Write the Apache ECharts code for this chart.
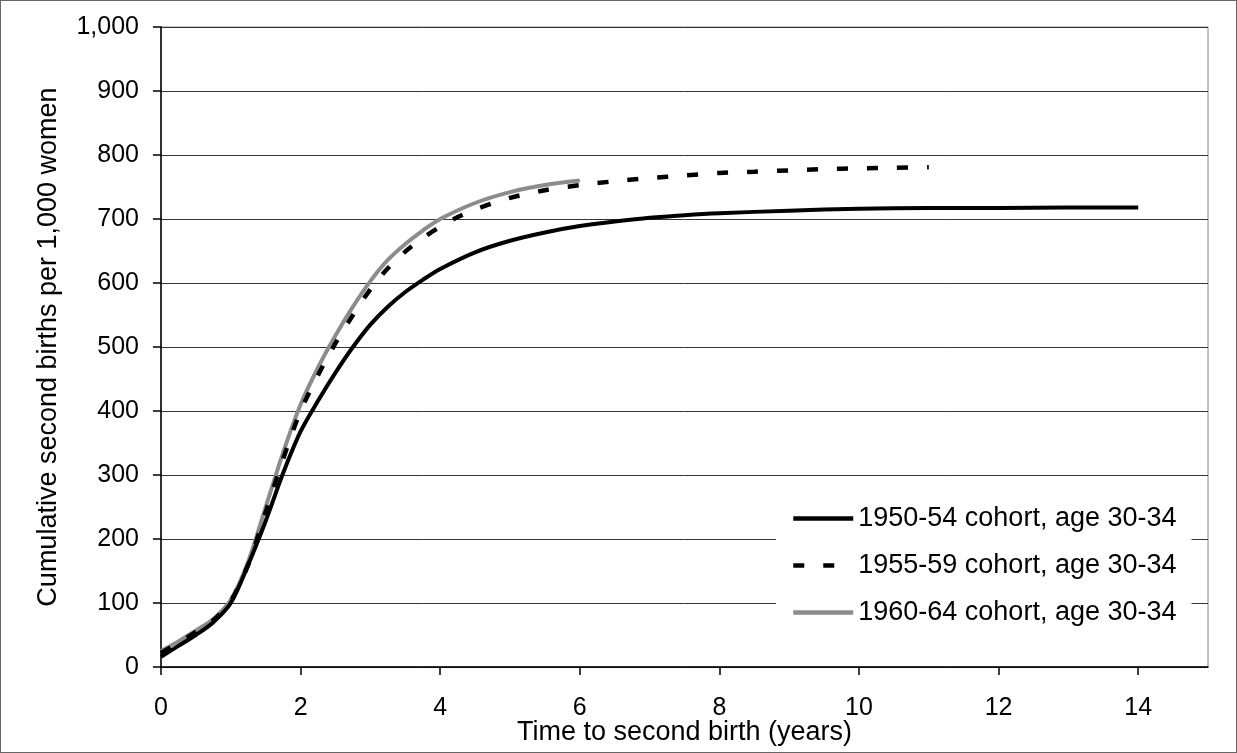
<!DOCTYPE html>
<html>
<head>
<meta charset="utf-8">
<script src="https://cdn.jsdelivr.net/npm/echarts@6/dist/echarts.min.js"></script>
<style>
html,body{margin:0;padding:0;background:#fff;}
#frame{width:1237px;height:753px;box-sizing:border-box;border:1px solid #666;position:relative;}
#chart{position:absolute;left:-1px;top:-1px;width:1237px;height:753px;}
</style>
</head>
<body>
<div id="frame"><div id="chart"></div></div>
<script>
var seriesNames = ['1950-54 cohort, age 30-34', '1955-59 cohort, age 30-34', '1960-64 cohort, age 30-34'];

var years1950 = [0, 0.25, 0.5, 0.75, 1.0, 1.25, 1.5, 1.75, 2.0, 2.25, 2.5, 2.75, 3.0, 3.25, 3.5, 3.75, 4.0, 4.5, 5.0, 5.5, 6.0, 6.5, 7.0, 7.5, 8.0, 9.0, 10.0, 11.0, 12.0, 13.0, 14.0];
var values1950 = [16, 33, 50, 70, 100, 160, 228, 303, 368, 416, 460, 500, 535, 563, 586, 605, 622, 648, 666, 679, 689, 696, 702, 706, 709, 713, 716, 717, 717, 718, 718];

var years1955 = [0, 0.25, 0.5, 0.75, 1.0, 1.25, 1.5, 1.75, 2.0, 2.25, 2.5, 2.75, 3.0, 3.25, 3.5, 3.75, 4.0, 4.25, 4.5, 5.0, 5.5, 6.0, 6.5, 7.0, 7.5, 8.0, 8.5, 9.0, 9.5, 10.0, 10.5, 11.0];
var values1955 = [22, 38, 55, 73, 103, 160, 242, 325, 400, 456, 506, 550, 590, 623, 649, 670, 688, 703, 715, 733, 745, 753, 759, 764, 768, 772, 774, 776, 778, 779, 780, 781];

var years1960 = [0, 0.25, 0.5, 0.75, 1.0, 1.25, 1.5, 1.75, 2.0, 2.25, 2.5, 2.75, 3.0, 3.25, 3.5, 3.75, 4.0, 4.5, 5.0, 5.5, 6.0];
var values1960 = [25, 40, 57, 75, 105, 165, 250, 335, 410, 468, 518, 563, 603, 636, 661, 682, 700, 725, 742, 753, 760];

var xTicks = [0, 2, 4, 6, 8, 10, 12, 14];

function pairs(xs, ys) { return xs.map(function (x, i) { return [x, ys[i]]; }); }

var FONT = "'Liberation Sans', Arial, sans-serif";
var chart = echarts.init(document.getElementById('chart'), null, {renderer: 'canvas'});
chart.setOption({
  animation: false,
  backgroundColor: 'transparent',
  grid: {left: 161, right: 29, top: 27, bottom: 86, containLabel: false, outerBoundsMode: 'none',
         show: true, borderColor: '#888', borderWidth: 1, backgroundColor: 'transparent'},
  xAxis: {
    type: 'value', min: 0, max: 15, interval: 2,
    name: 'Time to second birth (years)', nameLocation: 'middle', nameGap: 52, nameMoveOverlap: false,
    nameTextStyle: {fontSize: 27, fontFamily: FONT, color: '#000'},
    axisLine: {show: true, lineStyle: {color: '#000', width: 1.5}},
    axisTick: {show: true, length: 8, lineStyle: {color: '#000', width: 1.5}, customValues: xTicks},
    axisLabel: {fontSize: 25, fontFamily: FONT, color: '#000', margin: 29, customValues: xTicks},
    splitLine: {show: false}
  },
  yAxis: {
    type: 'value', min: 0, max: 1000, interval: 100,
    name: 'Cumulative second births per 1,000 women', nameLocation: 'middle', nameGap: 99, nameMoveOverlap: false,
    nameTextStyle: {fontSize: 27, fontFamily: FONT, color: '#000'},
    axisLine: {show: true, lineStyle: {color: '#000', width: 1.5}},
    axisTick: {show: true, length: 8, lineStyle: {color: '#000', width: 1.5}},
    axisLabel: {fontSize: 25, fontFamily: FONT, color: '#000', margin: 22,
      formatter: function (v) { return v.toLocaleString('en-US'); }},
    splitLine: {show: true, lineStyle: {color: '#333', width: 1}}
  },
  legend: {
    orient: 'vertical', left: 776, top: 494,
    backgroundColor: '#fff', padding: [11, 15, 11, 15],
    itemWidth: 60, itemHeight: 14, itemGap: 20,
    itemStyle: {opacity: 0},
    lineStyle: {width: 4.5},
    textStyle: {fontSize: 27, fontFamily: FONT, color: '#000'},
    data: seriesNames
  },
  series: [
    {name: seriesNames[0], type: 'line', data: pairs(years1950, values1950), symbol: 'none', smooth: 0.3,
     lineStyle: {color: '#000', width: 4}, itemStyle: {color: '#000'}, z: 3},
    {name: seriesNames[1], type: 'line', data: pairs(years1955, values1955), symbol: 'none', smooth: 0.3,
     lineStyle: {color: '#000', width: 4.5, type: [11, 19]}, itemStyle: {color: '#000'}, z: 2},
    {name: seriesNames[2], type: 'line', data: pairs(years1960, values1960), symbol: 'none', smooth: 0.3,
     lineStyle: {color: '#8c8c8c', width: 4}, itemStyle: {color: '#8c8c8c'}, z: 1}
  ]
});
</script>
</body>
</html>
